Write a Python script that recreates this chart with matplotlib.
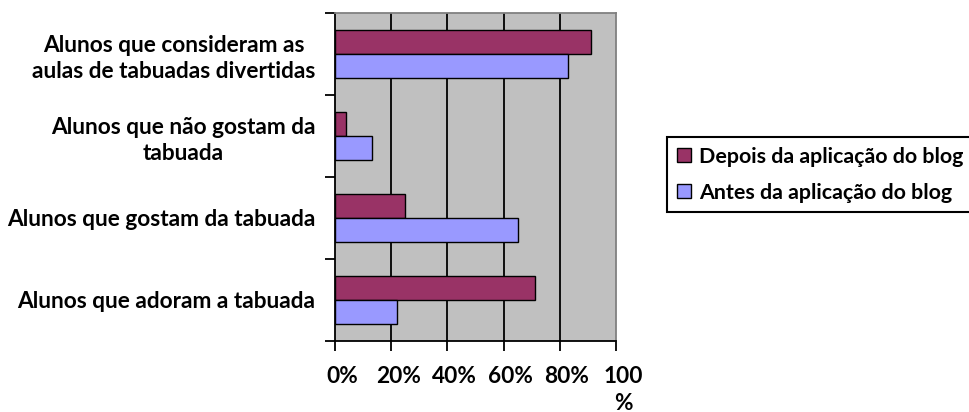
import matplotlib
matplotlib.use("Agg")
import matplotlib.pyplot as plt
import matplotlib.transforms as mtransforms
import numpy as np

plt.rcParams['font.family'] = ['Lato', 'DejaVu Sans']
plt.rcParams['font.weight'] = 'bold'

categories = [
    "Alunos que consideram as\naulas de tabuadas divertidas",
    "Alunos que não gostam da\ntabuada",
    "Alunos que gostam da tabuada",
    "Alunos que adoram a tabuada",
]
depois = [91, 4, 25, 71]
antes = [83, 13, 65, 22]
series_names = ["Depois da aplicação do blog", "Antes da aplicação do blog"]
x_ticks = [0, 20, 40, 60, 80, 100]
x_labels = ["0%", "20%", "40%", "60%", "80%", "100\n%"]

fs = 16.3
fig = plt.figure(figsize=(9.69, 4.12), dpi=100)
ax = fig.add_axes([335 / 969, 1 - 341 / 412, 281 / 969, 328 / 412])
ax.set_facecolor("#C0C0C0")

y = np.arange(len(categories))
h = 0.287
b1 = ax.barh(y - h / 2, depois, h, color="#993366", edgecolor="black", linewidth=1, zorder=3)
b2 = ax.barh(y + h / 2, antes, h, color="#9999FF", edgecolor="black", linewidth=1, zorder=3)

ax.set_xlim(0, 100)
ax.set_ylim(len(categories) - 0.5, -0.5)
for v in x_ticks[1:-1]:
    ax.axvline(v, color="black", linewidth=1.3, zorder=1)

ax.set_xticks(x_ticks)
ax.set_xticklabels(x_labels, fontsize=fs, fontweight="bold", linespacing=1.35, va="top")
ax.tick_params(axis="x", length=7, width=1.3, pad=11)
offset = mtransforms.ScaledTranslation(7 / 100, 0, fig.dpi_scale_trans)
for lbl in ax.get_xticklabels():
    lbl.set_transform(lbl.get_transform() + offset)

ax.set_yticks(y)
ax.set_yticklabels(categories, fontsize=fs, fontweight="bold", multialignment="center",
                   linespacing=1.3)
ax.set_yticks(np.arange(-0.5, len(categories), 1), minor=True)
ax.tick_params(axis="y", which="major", length=0, pad=14)
ax.tick_params(axis="y", which="minor", length=7, width=1.3)

for s in ["left", "bottom"]:
    ax.spines[s].set_color("black")
    ax.spines[s].set_linewidth(1.3)
for s in ["top", "right"]:
    ax.spines[s].set_color("#808080")
    ax.spines[s].set_linewidth(1.3)

leg = fig.legend([b1, b2], series_names, loc="upper left",
                 bbox_to_anchor=(667 / 969, 1 - 137 / 412), borderaxespad=0,
                 frameon=True, fancybox=False, edgecolor="black", framealpha=1,
                 prop={"size": 15.4, "weight": "bold"}, handlelength=0.65,
                 handleheight=0.65, handletextpad=0.4, borderpad=0.45,
                 labelspacing=0.75)
leg.get_frame().set_linewidth(1.5)

fig.savefig("out.png", dpi=100)
